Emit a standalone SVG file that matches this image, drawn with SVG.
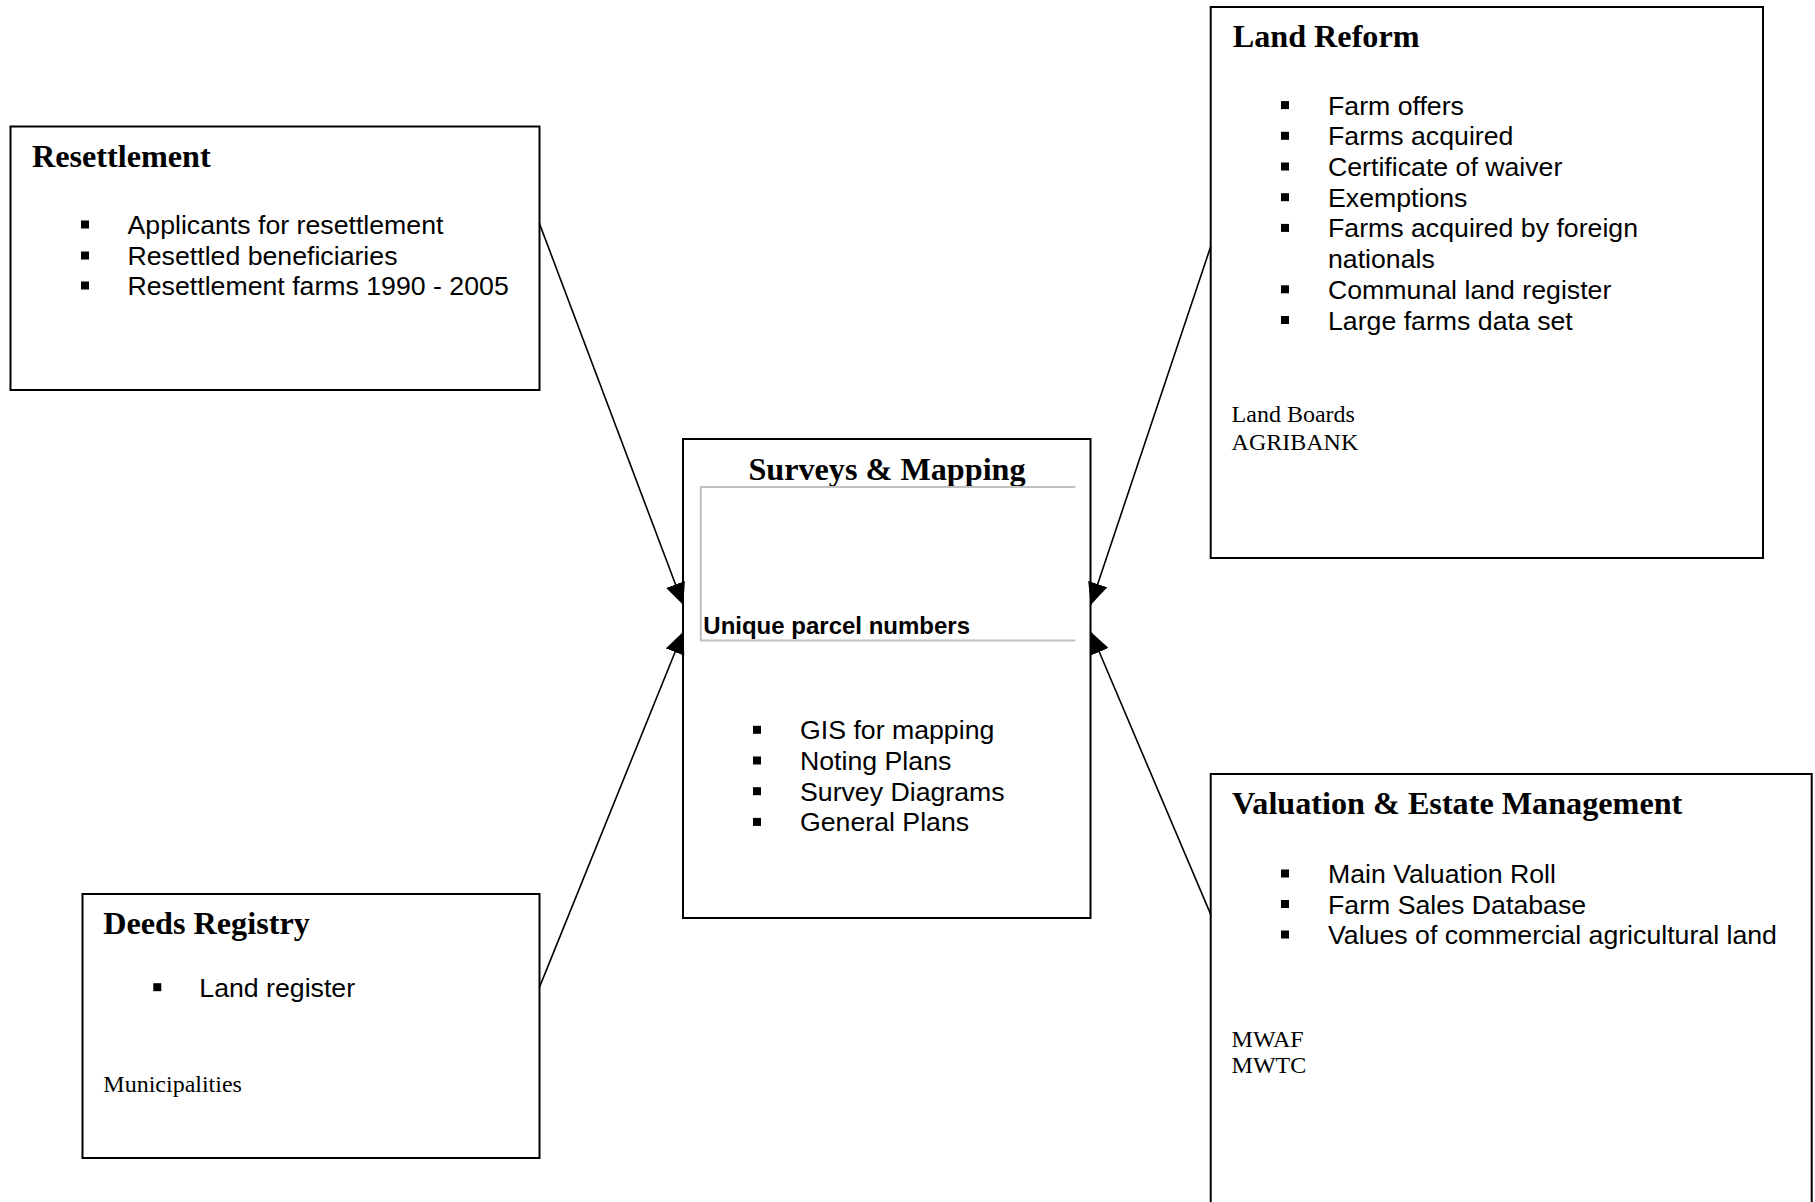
<svg xmlns="http://www.w3.org/2000/svg" width="1815" height="1202" viewBox="0 0 1815 1202">
<style>
.box{fill:#fff;stroke:#000;stroke-width:2}
.title{font-family:"Liberation Serif","Times New Roman",serif;font-weight:bold;font-size:32.2px;fill:#000}
.item{font-family:"Liberation Sans",Arial,sans-serif;font-size:26.7px;fill:#000}
.note{font-family:"Liberation Serif","Times New Roman",serif;font-size:24px;fill:#000}
.upn{font-family:"Liberation Sans",Arial,sans-serif;font-weight:bold;font-size:24px;fill:#000}
.bul{fill:#000}
.conn{stroke:#000;stroke-width:1.6;fill:none;marker-end:url(#arr)}
</style>
<defs>
<marker id="arr" markerUnits="userSpaceOnUse" viewBox="0 0 22 20" markerWidth="22" markerHeight="20" refX="22" refY="10" orient="auto">
<path d="M0,0 L22,10 L0,20 Z" fill="#000"/>
</marker>
</defs>
<rect width="1815" height="1202" fill="#fff"/>

<g id="resettlement">
<rect class="box" x="10.5" y="126.5" width="529" height="263.5"/>
<text class="title" x="32" y="167">Resettlement</text>
<rect class="bul" x="81" y="220.5" width="8" height="8"/>
<text class="item" x="127.5" y="234">Applicants for resettlement</text>
<rect class="bul" x="81" y="251.5" width="8" height="8"/>
<text class="item" x="127.5" y="265">Resettled beneficiaries</text>
<rect class="bul" x="81" y="281.5" width="8" height="8"/>
<text class="item" x="127.5" y="295">Resettlement farms 1990 - 2005</text>
</g>

<g id="land-reform">
<rect class="box" x="1210.7" y="7" width="552.3" height="551"/>
<text class="title" x="1232.7" y="46.6">Land Reform</text>
<rect class="bul" x="1281" y="101.1" width="8" height="8"/>
<text class="item" x="1328" y="114.6">Farm offers</text>
<rect class="bul" x="1281" y="131.8" width="8" height="8"/>
<text class="item" x="1328" y="145.3">Farms acquired</text>
<rect class="bul" x="1281" y="162.5" width="8" height="8"/>
<text class="item" x="1328" y="176">Certificate of waiver</text>
<rect class="bul" x="1281" y="193.2" width="8" height="8"/>
<text class="item" x="1328" y="206.7">Exemptions</text>
<rect class="bul" x="1281" y="223.9" width="8" height="8"/>
<text class="item" x="1328" y="237.4">Farms acquired by foreign</text>
<text class="item" x="1328" y="268.1">nationals</text>
<rect class="bul" x="1281" y="285.3" width="8" height="8"/>
<text class="item" x="1328" y="298.8">Communal land register</text>
<rect class="bul" x="1281" y="316" width="8" height="8"/>
<text class="item" x="1328" y="329.5">Large farms data set</text>
<text class="note" x="1231.6" y="422">Land Boards</text>
<text class="note" x="1231.6" y="450">AGRIBANK</text>
</g>

<g id="surveys-mapping">
<rect class="box" x="683" y="439" width="407.5" height="479"/>
<text class="title" x="887" y="479.5" text-anchor="middle">Surveys &amp; Mapping</text>
<polyline points="1075.3,487 700.8,487 700.8,640.5 1075.3,640.5" fill="none" stroke="#c0c0c0" stroke-width="2"/>
<text class="upn" x="703.3" y="634">Unique parcel numbers</text>
<rect class="bul" x="753" y="725.8" width="8" height="8"/>
<text class="item" x="800" y="739.3">GIS for mapping</text>
<rect class="bul" x="753" y="756.5" width="8" height="8"/>
<text class="item" x="800" y="770">Noting Plans</text>
<rect class="bul" x="753" y="787.2" width="8" height="8"/>
<text class="item" x="800" y="800.7">Survey Diagrams</text>
<rect class="bul" x="753" y="817.9" width="8" height="8"/>
<text class="item" x="800" y="831.4">General Plans</text>
</g>

<g id="deeds-registry">
<rect class="box" x="82.5" y="894" width="457" height="264"/>
<text class="title" x="103.3" y="934">Deeds Registry</text>
<rect class="bul" x="153.3" y="983.2" width="8" height="8"/>
<text class="item" x="199.3" y="996.7">Land register</text>
<text class="note" x="103.3" y="1092.3">Municipalities</text>
</g>

<g id="valuation-estate">
<rect class="box" x="1210.7" y="774" width="601" height="440"/>
<text class="title" x="1232" y="813.5">Valuation &amp; Estate Management</text>
<rect class="bul" x="1281" y="869.5" width="8" height="8"/>
<text class="item" x="1328" y="883">Main Valuation Roll</text>
<rect class="bul" x="1281" y="900" width="8" height="8"/>
<text class="item" x="1328" y="913.5">Farm Sales Database</text>
<rect class="bul" x="1281" y="930.5" width="8" height="8"/>
<text class="item" x="1328" y="944">Values of commercial agricultural land</text>
<text class="note" x="1231.6" y="1046.5">MWAF</text>
<text class="note" x="1231.6" y="1073.3">MWTC</text>
</g>

<g id="connectors">
<line class="conn" x1="539.4" y1="223.4" x2="683.3" y2="605"/>
<line class="conn" x1="539.4" y1="987.4" x2="683.3" y2="631.7"/>
<line class="conn" x1="1210.7" y1="246.5" x2="1090.7" y2="605"/>
<line class="conn" x1="1210.7" y1="914.4" x2="1090.7" y2="631.7"/>
</g>
</svg>
